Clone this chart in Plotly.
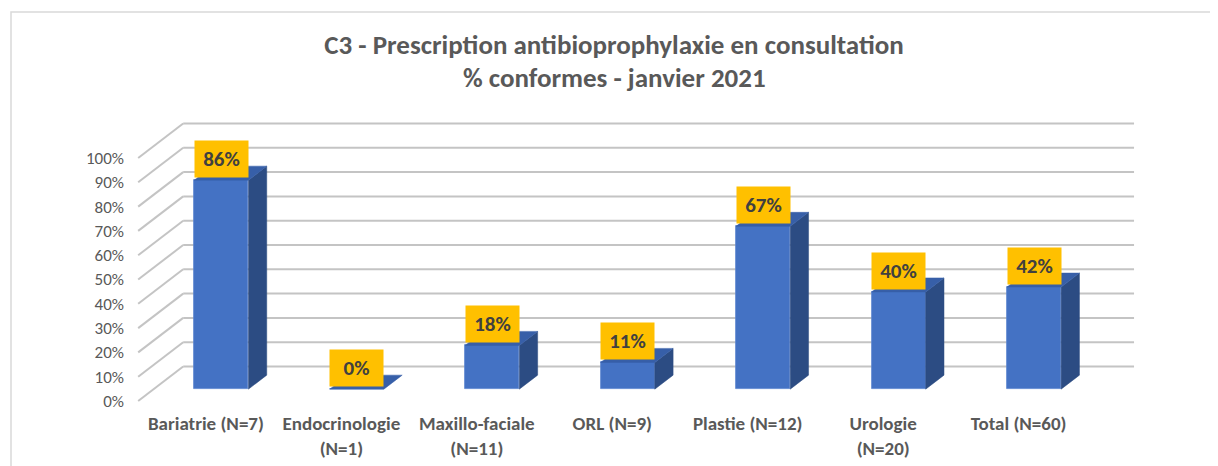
import plotly.graph_objects as go

# ---- data ----
categories = ["Bariatrie (N=7)", "Endocrinologie<br>(N=1)", "Maxillo-faciale<br>(N=11)",
              "ORL (N=9)", "Plastie (N=12)", "Urologie<br>(N=20)", "Total (N=60)"]
values = [86, 0, 18, 11, 67, 40, 42]
labels = ["86%", "0%", "18%", "11%", "67%", "40%", "42%"]
y_ticks = [0, 10, 20, 30, 40, 50, 60, 70, 80, 90, 100]
y_tick_text = [f"{t}%" for t in y_ticks]
title_line1 = "C3 - Prescription antibioprophylaxie en consultation"
title_line2 = "% conformes - janvier 2021"

# ---- pseudo-3D geometry (oblique projection) ----
DX = 0.3322      # x offset for full depth (front floor -> back wall)
DY = 14.2        # y offset for full depth
F1, F2 = 0.343, 0.75   # bar front / back depth fractions
HALF = 0.2       # half bar width
X_LEFT, X_RIGHT = -0.5, 6.52

FRONT = "#4472C4"
SIDE = "#2C4C83"
TOP = "#375FA8"
GRID = "#C4C4C4"
TEXT = "#595959"
FONT = "Carlito, Lato, sans-serif"

# page body has an 8px margin: work in figure pixels = screen pixels - 8
W, H = 1210, 458
ML, MR, MT, MB = 122, 68, 92, 56
PW, PH = W - ML - MR, H - MT - MB

fig = go.Figure()

shapes = []
for t in y_ticks:
    shapes.append(dict(type="line", xref="x", yref="y", layer="below",
                       x0=X_LEFT + DX, x1=X_RIGHT + DX, y0=t + DY, y1=t + DY,
                       line=dict(color=GRID, width=2)))
    shapes.append(dict(type="line", xref="x", yref="y", layer="below",
                       x0=X_LEFT, x1=X_LEFT + DX, y0=t, y1=t + DY,
                       line=dict(color=GRID, width=2)))

# chart frame
shapes.append(dict(type="rect", xref="paper", yref="paper",
                   x0=(3 - ML) / PW, x1=(1209 - ML) / PW,
                   y0=(MT + PH - 480) / PH, y1=(MT + PH - 4) / PH,
                   line=dict(color="#D9D9D9", width=1.5), fillcolor="rgba(0,0,0,0)", layer="below"))

dxb = (F2 - F1) * DX
dyb = (F2 - F1) * DY
for i, v in enumerate(values):
    c = i + F1 * DX
    base = F1 * DY
    top = base + v
    if v > 0:
        fig.add_trace(go.Scatter(
            x=[c + HALF, c + HALF, c + HALF + dxb, c + HALF + dxb, c + HALF],
            y=[base, top, top + dyb, base + dyb, base],
            fill="toself", fillcolor=SIDE, mode="lines",
            line=dict(color=SIDE, width=0.5), hoverinfo="skip", showlegend=False))
    fig.add_trace(go.Scatter(
        x=[c - HALF, c + HALF, c + HALF + dxb, c - HALF + dxb, c - HALF],
        y=[top, top, top + dyb, top + dyb, top],
        fill="toself", fillcolor=TOP, mode="lines",
        line=dict(color=TOP, width=0.5), hoverinfo="skip", showlegend=False))

fig.add_trace(go.Bar(
    x=[i + F1 * DX for i in range(len(values))], y=values, base=F1 * DY,
    width=2 * HALF, marker=dict(color=FRONT, line=dict(color="#5B84CF", width=0.8)),
    hoverinfo="skip", showlegend=False))

annotations = []
for i, (v, lab) in enumerate(zip(values, labels)):
    annotations.append(dict(
        x=i + F1 * DX, y=v + F1 * DY, xref="x", yref="y",
        text=f"<b>{lab}</b>", showarrow=False, yanchor="middle", yshift=21,
        bgcolor="#FFC000", borderpad=3, width=47, height=30,
        font=dict(family=FONT, size=21, color="#404040")))

# second title line (paper coordinates relative to the plot area)
annotations.append(dict(
    x=(606 - ML) / PW, y=(MT + PH - 69) / PH, xref="paper", yref="paper",
    xanchor="center", yanchor="middle",
    text=f"<b>{title_line2}</b>", showarrow=False,
    font=dict(family=FONT, size=27, color=TEXT)))

fig.update_layout(
    width=W, height=H,
    margin=dict(l=ML, r=MR, t=MT, b=MB, autoexpand=False),
    paper_bgcolor="white", plot_bgcolor="white",
    title=dict(text=f"<b>{title_line1}</b>",
               x=606 / W, xanchor="center", y=1 - 37 / H, yanchor="middle",
               font=dict(family=FONT, size=27, color=TEXT)),
    shapes=shapes, annotations=annotations,
    xaxis=dict(range=[-0.5604, 6.970], tickmode="array",
               tickvals=list(range(len(categories))), ticktext=[f"<b>{c}</b>" for c in categories],
               showgrid=False, zeroline=False, showline=False, ticks="", automargin=False,
               tickfont=dict(family=FONT, size=19, color=TEXT), fixedrange=True),
    yaxis=dict(range=[-3.70, 123.87], tickmode="array", tickvals=y_ticks, ticktext=y_tick_text,
               showgrid=False, zeroline=False, showline=False, ticks="", automargin=False,
               ticklabelstandoff=5,
               tickfont=dict(family=FONT, size=17, color=TEXT), fixedrange=True),
    bargap=0, showlegend=False,
)

fig.write_html("out.html")
